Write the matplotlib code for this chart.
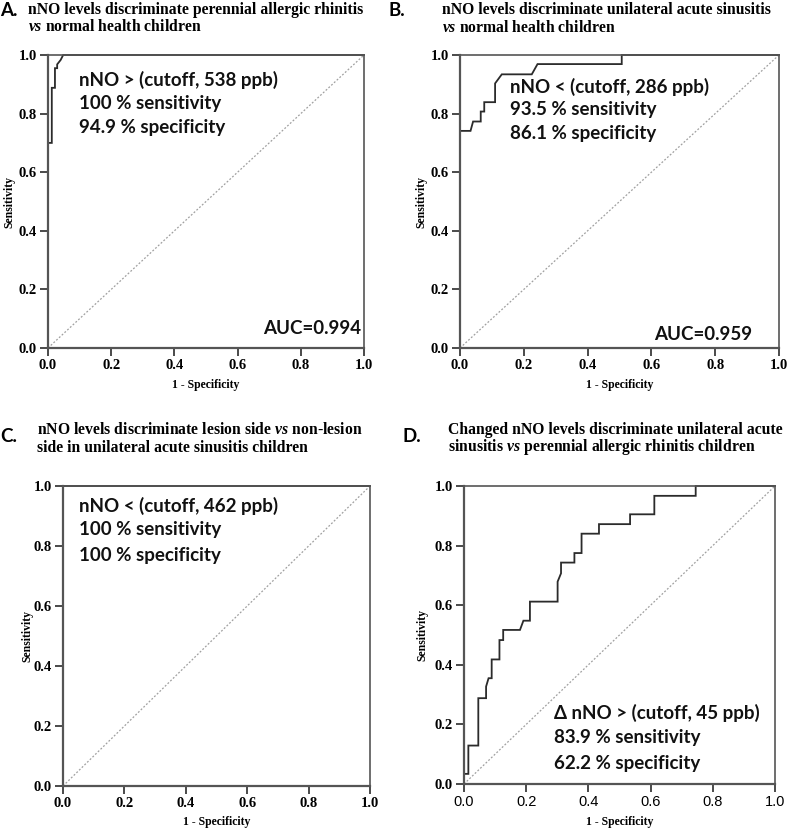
import numpy as np
import matplotlib
matplotlib.use("Agg")
import matplotlib.pyplot as plt

plt.rcParams['mathtext.fontset'] = 'custom'
plt.rcParams['mathtext.rm'] = 'Liberation Serif:bold'
plt.rcParams['mathtext.it'] = 'Liberation Serif:italic:bold'

# ROC curves (1 - specificity, sensitivity)
fpr_a = [0, 0, 0.012, 0.012, 0.022, 0.022, 0.029, 0.029, 0.040, 0.048, 1.0]
tpr_a = [0, 0.70, 0.70, 0.888, 0.888, 0.955, 0.955, 0.968, 0.983, 1.0, 1.0]

fpr_b = [0, 0, 0.033, 0.041, 0.065, 0.065, 0.076, 0.076, 0.110, 0.110, 0.131,
         0.225, 0.243, 0.507, 0.507, 1.0]
tpr_b = [0, 0.741, 0.741, 0.773, 0.773, 0.807, 0.807, 0.839, 0.839, 0.903, 0.934,
         0.934, 0.969, 0.969, 1.0, 1.0]

fpr_c = [0, 0, 1.0]
tpr_c = [0, 1.0, 1.0]

fpr_d = [0, 0, 0.014, 0.014, 0.046, 0.046, 0.071, 0.071, 0.079, 0.089, 0.089,
         0.114, 0.114, 0.126, 0.126, 0.180, 0.191, 0.212, 0.212, 0.301, 0.301,
         0.312, 0.312, 0.355, 0.355, 0.378, 0.378, 0.434, 0.434, 0.534, 0.534,
         0.612, 0.612, 0.745, 0.745, 1.0]
tpr_d = [0, 0.034, 0.034, 0.129, 0.129, 0.288, 0.288, 0.327, 0.355, 0.355, 0.418,
         0.418, 0.483, 0.483, 0.517, 0.517, 0.548, 0.548, 0.612, 0.612, 0.679,
         0.707, 0.743, 0.743, 0.775, 0.775, 0.840, 0.840, 0.872, 0.872, 0.905,
         0.905, 0.967, 0.967, 1.0, 1.0]

letters = ['A.', 'B.', 'C.', 'D.']
titles = [
    ["nNO levels discriminate perennial allergic rhinitis",
     r"$\mathit{vs}$ normal health children"],
    ["nNO levels discriminate unilateral acute sinusitis",
     r"$\mathit{vs}$ normal health children"],
    [r"nNO levels discriminate lesion side $\mathit{vs}$ non-lesion",
     "side in unilateral acute sinusitis children"],
    ["Changed nNO levels discriminate unilateral acute",
     r"sinusitis $\mathit{vs}$ perennial allergic rhinitis children"],
]
notes = [
    ["nNO > (cutoff, 538 ppb)", "100 % sensitivity", "94.9 % specificity"],
    ["nNO < (cutoff, 286 ppb)", "93.5 % sensitivity", "86.1 % specificity"],
    ["nNO < (cutoff, 462 ppb)", "100 % sensitivity", "100 % specificity"],
    ["\u0394 nNO > (cutoff, 45 ppb)", "83.9 % sensitivity", "62.2 % specificity"],
]
aucs = ["AUC=0.994", "AUC=0.959", None, None]
ticks = [0.0, 0.2, 0.4, 0.6, 0.8, 1.0]

curves = [(fpr_a, tpr_a), (fpr_b, tpr_b), (fpr_c, tpr_c), (fpr_d, tpr_d)]

fig = plt.figure(figsize=(7.87, 8.33), dpi=100)
W, H = 787.0, 833.0

# axes boxes in pixels: left, top, right, bottom
boxes = [(48, 55, 364, 348), (460, 55, 779, 348),
         (63, 486, 370, 786), (464, 486, 775, 784)]
title_pos = [(28, 10, 27), (442, 10, 28), (37, 430, 448), (448, 430, 447)]
letter_pos = [(0, 10), (388, 10), (0, 437), (403, 437)]
ylab_x = [9, 421, 27, 422]
xlab_y = [385, 385, 822, 822]
# note text: left pixel, centre pixel of each line
note_x = [79, 510, 79, 554]
note_y = [(80, 103.5, 127), (87, 110, 133), (506, 529, 555), (713, 737, 763)]
auc_px = [(361, 328), (752, 335)]

serif = 'Liberation Serif'
sans = ['Lato', 'DejaVu Sans']
dark = '#2b2b2b'

for i in range(4):
    l, t, r, b = boxes[i]
    ax = fig.add_axes([l / W, 1 - b / H, (r - l) / W, (b - t) / H])
    ax.set_xlim(0, 1)
    ax.set_ylim(0, 1)
    ax.plot([0, 1], [0, 1], color='#a0a0a0', lw=0.9, ls=(0, (1.5, 1.5)))
    fx, ty = curves[i]
    ax.plot(fx, ty, color=dark, lw=1.3, clip_on=False, solid_joinstyle='miter')
    for s in ax.spines.values():
        s.set_color('#555555')
        s.set_linewidth(1.2)
    ax.spines['left'].set_linewidth(1.6)
    ax.spines['bottom'].set_linewidth(1.6)
    ax.set_xticks(ticks)
    ax.set_yticks(ticks)
    ax.tick_params(direction='out', length=6, width=1.2, color=dark, pad=2)
    ax.set_yticklabels(['%.1f' % v for v in ticks], fontfamily=serif,
                       fontweight='bold', fontsize=10.5)
    if i == 3:
        ax.set_xticklabels(['%.1f' % v for v in ticks], fontfamily='Liberation Sans',
                           fontsize=10.5)
    else:
        ax.set_xticklabels(['%.1f' % v for v in ticks], fontfamily=serif,
                           fontweight='bold', fontsize=10.5)

    for line, yc in zip(notes[i], note_y[i]):
        fig.text(note_x[i] / W, 1 - yc / H, line, ha='left', va='center',
                 fontfamily=sans, fontweight='bold', fontsize=13.5, color='#111111')
    if aucs[i]:
        px, py = auc_px[i]
        fig.text(px / W, 1 - py / H, aucs[i], ha='right', va='center',
                 fontfamily=sans, fontweight='bold', fontsize=13.5, color='#111111')

    fig.text(ylab_x[i] / W, 1 - (t + b) / 2 / H, "Sensitivity", rotation=90,
             ha='center', va='center', fontfamily=serif, fontweight='bold',
             fontsize=8.5)
    fig.text((l + r) / 2 / W, 1 - xlab_y[i] / H, "1 - Specificity", ha='center',
             va='center', fontfamily=serif, fontweight='bold', fontsize=8.5)

    tx, y1, y2 = title_pos[i]
    fig.text(tx / W, 1 - y1 / H, titles[i][0], ha='left', va='center',
             fontfamily=serif, fontweight='bold', fontsize=11.3)
    fig.text(tx / W, 1 - y2 / H, titles[i][1], ha='left', va='center',
             fontfamily=serif, fontweight='bold', fontsize=11.3)
    lx, ly = letter_pos[i]
    fig.text(lx / W, 1 - ly / H, letters[i], ha='left', va='center',
             fontfamily=sans, fontweight='bold', fontsize=13.5)

fig.savefig('out.png', dpi=100)
